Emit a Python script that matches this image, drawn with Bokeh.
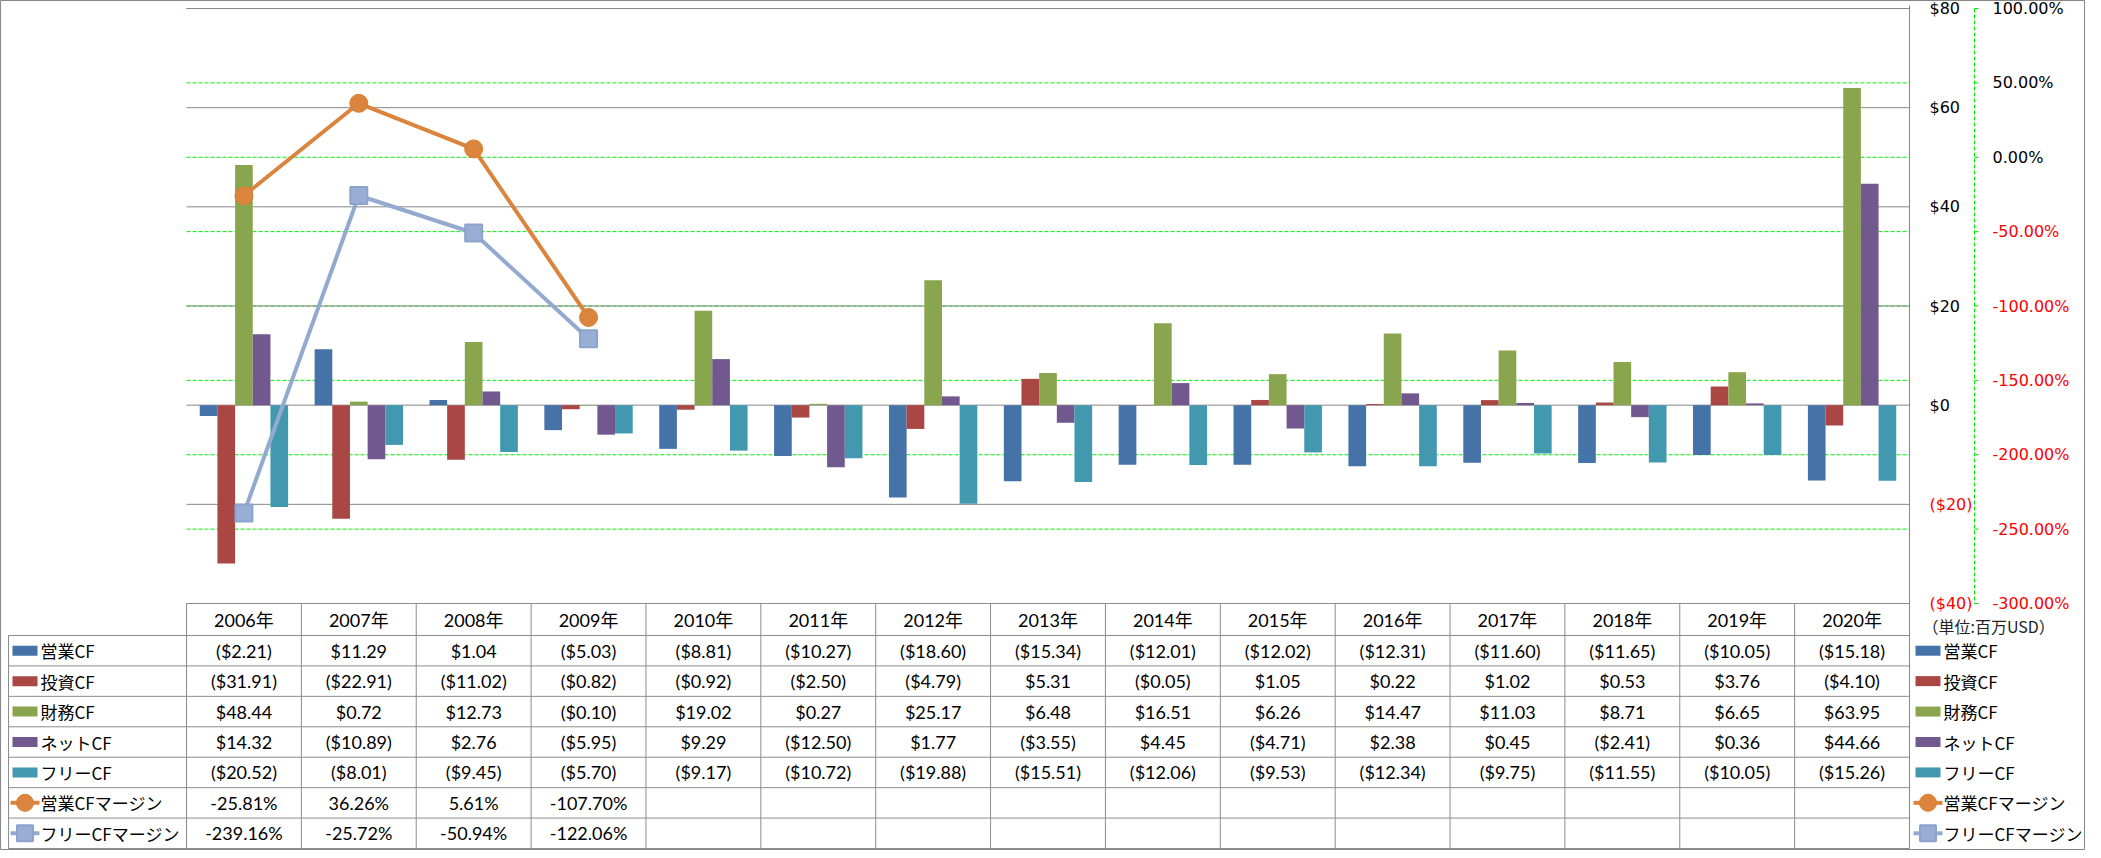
from bokeh.plotting import figure
from bokeh.models import Range1d, ColumnDataSource
from bokeh.transform import dodge
from bokeh.core.properties import value
from bokeh.embed import file_html
from bokeh.resources import INLINE

# ---------------- data ----------------
years = ["2006年", "2007年", "2008年", "2009年", "2010年", "2011年", "2012年", "2013年",
         "2014年", "2015年", "2016年", "2017年", "2018年", "2019年", "2020年"]
op_cf = [-2.21, 11.29, 1.04, -5.03, -8.81, -10.27, -18.60, -15.34, -12.01, -12.02,
         -12.31, -11.60, -11.65, -10.05, -15.18]
inv_cf = [-31.91, -22.91, -11.02, -0.82, -0.92, -2.50, -4.79, 5.31, -0.05, 1.05,
          0.22, 1.02, 0.53, 3.76, -4.10]
fin_cf = [48.44, 0.72, 12.73, -0.10, 19.02, 0.27, 25.17, 6.48, 16.51, 6.26,
          14.47, 11.03, 8.71, 6.65, 63.95]
net_cf = [14.32, -10.89, 2.76, -5.95, 9.29, -12.50, 1.77, -3.55, 4.45, -4.71,
          2.38, 0.45, -2.41, 0.36, 44.66]
free_cf = [-20.52, -8.01, -9.45, -5.70, -9.17, -10.72, -19.88, -15.51, -12.06, -9.53,
           -12.34, -9.75, -11.55, -10.05, -15.26]
op_margin = [-25.81, 36.26, 5.61, -107.70]
free_margin = [-239.16, -25.72, -50.94, -122.06]

bar_names = ["営業CF", "投資CF", "財務CF", "ネットCF", "フリーCF"]
line_names = ["営業CFマージン", "フリーCFマージン"]
usd_ticks = [80, 60, 40, 20, 0, -20, -40]
pct_ticks = [100, 50, 0, -50, -100, -150, -200, -250, -300]
unit_label = "（単位:百万USD）"

# ---------------- styles / layout ----------------
bar_colors = ["#4572A7", "#AA4643", "#89A54E", "#71588F", "#4198AF"]
line_colors = ["#DB843D", "#93A9CF"]
GRID_GRAY = "#868686"
TABLE_GRAY = "#8C8C8C"
GREEN = "#00EE00"
RED = "#FF0000"
TFONT = value("Lato, 'Noto Sans CJK JP', sans-serif")
AFONT = value("'DejaVu Sans', sans-serif")
JFONT = value("'Noto Sans CJK JP', sans-serif")

PAGE = 8
W, H = 2085, 850
PLOT_L, PLOT_R = 194, 1917
Y_TOP, Y_BOT = 16, 611
HDR_BOT, TBL_BOT = 643, 856
LEG_L = 16

n = len(years)
cw = (PLOT_R - PLOT_L) / n
usd_pp = (max(usd_ticks) - min(usd_ticks)) / (Y_BOT - Y_TOP)
pct_pp = (max(pct_ticks) - min(pct_ticks)) / (Y_BOT - Y_TOP)

x_range = Range1d((PAGE - PLOT_L) / cw, (PAGE + W - PLOT_L) / cw)
y_range = Range1d(min(usd_ticks) - (PAGE + H - Y_BOT) * usd_pp,
                  max(usd_ticks) + (Y_TOP - PAGE) * usd_pp)

p = figure(width=W, height=H, x_range=x_range, y_range=y_range,
           output_backend="svg", toolbar_location=None,
           x_axis_location=None, y_axis_location=None, min_border=0)
p.grid.visible = False
p.outline_line_color = GRID_GRAY
p.background_fill_color = "white"
p.border_fill_color = "white"
p.extra_y_ranges = {
    "pct": Range1d(min(pct_ticks) - (PAGE + H - Y_BOT) * pct_pp,
                   max(pct_ticks) + (Y_TOP - PAGE) * pct_pp),
    "py": Range1d(PAGE + H, PAGE),
}
p.extra_x_ranges = {"px": Range1d(PAGE, PAGE + W)}

centers = [i + 0.5 for i in range(n)]

# ---------------- gridlines ----------------
p.segment(x0=[0] * len(pct_ticks), x1=[n] * len(pct_ticks), y0=pct_ticks, y1=pct_ticks,
          y_range_name="pct", line_color=GREEN, line_width=1, line_dash="4 2")
p.segment(x0=[0] * len(usd_ticks), x1=[n] * len(usd_ticks), y0=usd_ticks, y1=usd_ticks,
          line_color=GRID_GRAY, line_width=1)

# ---------------- bars ----------------
src = ColumnDataSource(dict(center=centers, s0=op_cf, s1=inv_cf, s2=fin_cf, s3=net_cf, s4=free_cf))
bw = 1 / (len(bar_names) + 1.5)
for k, col in enumerate(["s0", "s1", "s2", "s3", "s4"]):
    off = (k - (len(bar_names) - 1) / 2) * bw
    p.vbar(x=dodge("center", off), top=col, bottom=0, width=bw, source=src,
           fill_color=bar_colors[k], line_color=None)

# ---------------- lines ----------------
msrc = ColumnDataSource(dict(center=centers[:len(op_margin)], m0=op_margin, m1=free_margin))
p.line("center", "m0", source=msrc, y_range_name="pct", line_color=line_colors[0], line_width=4)
p.scatter("center", "m0", source=msrc, y_range_name="pct", marker="circle", size=18,
          fill_color=line_colors[0], line_color="#D97F33", line_width=1)
p.line("center", "m1", source=msrc, y_range_name="pct", line_color=line_colors[1], line_width=4)
p.scatter("center", "m1", source=msrc, y_range_name="pct", marker="square", size=17,
          fill_color="#98AED4", line_color="#8BA4CC", line_width=2)

# ---------------- right axes ----------------
p.segment(x0=[n], x1=[n], y0=[Y_TOP - 3], y1=[TBL_BOT], y_range_name="py",
          line_color=GRID_GRAY, line_width=1)
usd_lbl = [f"${t}" if t >= 0 else f"(${abs(t)})" for t in usd_ticks]
p.text(x=[PLOT_R + 20] * len(usd_ticks), y=usd_ticks, text=usd_lbl, x_range_name="px",
       text_color=["black" if t >= 0 else RED for t in usd_ticks],
       text_font=AFONT, text_font_size="16px", text_align="left", text_baseline="middle")

AX2 = 1982
p.segment(x0=[AX2], x1=[AX2], y0=[max(pct_ticks)], y1=[min(pct_ticks)],
          x_range_name="px", y_range_name="pct", line_color=GREEN, line_width=1, line_dash="4 2")
p.segment(x0=[AX2] * len(pct_ticks), x1=[AX2 + 4] * len(pct_ticks), y0=pct_ticks, y1=pct_ticks,
          x_range_name="px", y_range_name="pct", line_color=GREEN, line_width=1)
pct_lbl = [f"{t:.2f}%" for t in pct_ticks]
p.text(x=[2000] * len(pct_ticks), y=pct_ticks, text=pct_lbl, x_range_name="px", y_range_name="pct",
       text_color=["black" if t >= 0 else RED for t in pct_ticks],
       text_font=AFONT, text_font_size="16px", text_align="left", text_baseline="middle")

p.text(x=[1930], y=[633], text=[unit_label], x_range_name="px", y_range_name="py",
       text_font=JFONT, text_font_size="16px", text_align="left", text_baseline="middle",
       text_color="#222222")

# ---------------- data table ----------------
rh = (TBL_BOT - HDR_BOT) / (len(bar_names) + len(line_names))
nrows = len(bar_names) + len(line_names)
row_edges = [HDR_BOT + r * rh for r in range(nrows + 1)]
row_mid = [HDR_BOT + (r + 0.5) * rh for r in range(nrows)]
leg_x0 = (LEG_L - PLOT_L) / cw

# horizontal lines
p.segment(x0=[0], x1=[n], y0=[Y_BOT], y1=[Y_BOT], y_range_name="py",
          line_color=TABLE_GRAY, line_width=1)
p.segment(x0=[leg_x0] * len(row_edges), x1=[n] * len(row_edges), y0=row_edges, y1=row_edges,
          y_range_name="py", line_color=TABLE_GRAY, line_width=1)
# vertical lines
p.segment(x0=list(range(n)), x1=list(range(n)), y0=[Y_BOT] * n, y1=[TBL_BOT] * n,
          y_range_name="py", line_color=TABLE_GRAY, line_width=1)
p.segment(x0=[leg_x0], x1=[leg_x0], y0=[HDR_BOT], y1=[TBL_BOT],
          y_range_name="py", line_color=TABLE_GRAY, line_width=1)

# header
p.text(x=centers, y=[(Y_BOT + HDR_BOT) / 2] * n, text=years, y_range_name="py",
       text_font=TFONT, text_font_size="18px", text_align="center", text_baseline="middle",
       text_color="black")


def fmt_usd(v):
    return f"(${abs(v):.2f})" if v < 0 else f"${v:.2f}"


rows = [op_cf, inv_cf, fin_cf, net_cf, free_cf]
cell_x, cell_y, cell_t = [], [], []
for r, vals in enumerate(rows):
    for i, v in enumerate(vals):
        cell_x.append(centers[i]); cell_y.append(row_mid[r]); cell_t.append(fmt_usd(v))
for j, vals in enumerate([op_margin, free_margin]):
    for i, v in enumerate(vals):
        cell_x.append(centers[i]); cell_y.append(row_mid[len(rows) + j]); cell_t.append(f"{v:.2f}%")
p.text(x=cell_x, y=cell_y, text=cell_t, y_range_name="py",
       text_font=TFONT, text_font_size="18px", text_align="center", text_baseline="middle",
       text_color="black")

# legend keys (left column in table and right legend)
all_names = bar_names + line_names
for (sym_l, sym_r, txt_x) in [(20, 45, 48), (1923, 1948, 1951)]:
    mid = (sym_l + sym_r) / 2
    p.rect(x=[mid] * len(bar_names), y=row_mid[:len(bar_names)], width=sym_r - sym_l, height=10,
           width_units="screen", height_units="screen", x_range_name="px", y_range_name="py",
           fill_color=bar_colors, line_color=None)
    ly = row_mid[len(bar_names):]
    p.segment(x0=[sym_l - 2] * 2, x1=[sym_r + 2] * 2, y0=ly, y1=ly, x_range_name="px",
              y_range_name="py", line_color=line_colors, line_width=4)
    p.scatter(x=[mid], y=[ly[0]], marker="circle", size=17, x_range_name="px", y_range_name="py",
              fill_color=line_colors[0], line_color="#D97F33")
    p.scatter(x=[mid], y=[ly[1]], marker="square", size=16, x_range_name="px", y_range_name="py",
              fill_color="#98AED4", line_color="#8BA4CC", line_width=2)
    p.text(x=[txt_x] * len(all_names), y=row_mid, text=all_names, x_range_name="px", y_range_name="py",
           text_font=JFONT, text_font_size="17px", text_align="left", text_baseline="middle",
           text_color="black")

open("out.html", "w").write(file_html(p, INLINE))
